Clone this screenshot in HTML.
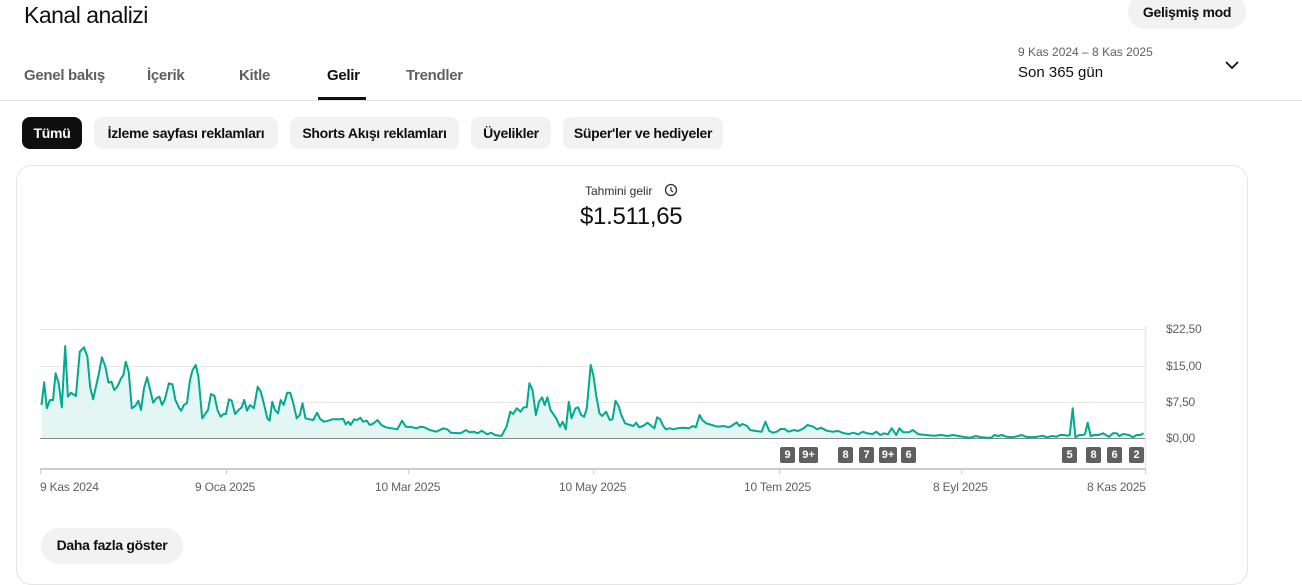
<!DOCTYPE html>
<html><head><meta charset="utf-8"><style>
*{box-sizing:border-box;margin:0;padding:0}
body{width:1302px;height:556px;overflow:hidden;background:#fff;font-family:"Liberation Sans",sans-serif;color:#0f0f0f;position:relative}
.a{position:absolute;white-space:nowrap}
.tab{position:absolute;top:67px;font-size:15px;font-weight:bold;color:#606060;letter-spacing:-0.3px}
.chip{position:absolute;top:117px;height:32px;border-radius:8px;background:#f2f2f2;font-size:14px;font-weight:bold;line-height:32px;text-align:center;letter-spacing:-0.3px}
.b{position:absolute;top:447px;height:16px;background:#606060;color:#fff;font-size:11px;font-weight:bold;line-height:16px;text-align:center;border-radius:2px}
.tl{position:absolute;top:480px;font-size:12px;color:#606060;letter-spacing:-0.2px}
.yl{position:absolute;left:1166px;font-size:12px;color:#606060;letter-spacing:-0.2px}
</style></head><body>
<div class="a" style="left:24px;top:2px;font-size:23px;letter-spacing:-0.5px">Kanal analizi</div>
<div class="a" style="left:1128px;top:-6px;width:118px;height:35px;border-radius:18px;background:#f2f2f2;font-size:14px;font-weight:bold;text-align:center;line-height:36px;letter-spacing:-0.3px">Gelişmiş mod</div>
<div class="tab" style="left:24px">Genel bakış</div>
<div class="tab" style="left:147px">İçerik</div>
<div class="tab" style="left:239px">Kitle</div>
<div class="tab" style="left:327px;color:#0f0f0f">Gelir</div>
<div class="tab" style="left:406px">Trendler</div>
<div class="a" style="left:318px;top:97px;width:48px;height:3px;background:#0f0f0f"></div>
<div class="a" style="left:0;top:100px;width:1302px;height:1px;background:#e5e5e5"></div>
<div class="a" style="left:1018px;top:45px;font-size:12px;color:#606060">9 Kas 2024 – 8 Kas 2025</div>
<div class="a" style="left:1018px;top:64px;font-size:15px">Son 365 gün</div>
<svg class="a" style="left:1224px;top:58px" width="16" height="14"><path d="M2 4 L8 10 L14 4" stroke="#0f0f0f" stroke-width="1.8" fill="none"/></svg>
<div class="chip" style="left:22px;width:60px;background:#0f0f0f;color:#fff">Tümü</div>
<div class="chip" style="left:94px;width:184px">İzleme sayfası reklamları</div>
<div class="chip" style="left:290px;width:169px">Shorts Akışı reklamları</div>
<div class="chip" style="left:471px;width:80px">Üyelikler</div>
<div class="chip" style="left:563px;width:160px">Süper'ler ve hediyeler</div>
<div class="a" style="left:16px;top:165px;width:1232px;height:420px;border:1px solid #e5e5e5;border-radius:16px"></div>
<div class="a" style="left:585px;top:184px;font-size:12px;color:#303030">Tahmini gelir</div>
<svg class="a" style="left:664px;top:183px" width="14" height="14"><circle cx="7" cy="7" r="5.5" stroke="#303030" stroke-width="1.3" fill="none"/><path d="M7 4 V7.5 L9 9" stroke="#303030" stroke-width="1.2" fill="none"/></svg>
<div class="a" style="left:580px;top:203px;font-size:24px;letter-spacing:-0.3px">$1.511,65</div>
<svg class="a" style="left:0;top:0" width="1302" height="556" id="s">
<line x1="40" y1="329.5" x2="1145" y2="329.5" stroke="#e8e8e8"/>
<line x1="40" y1="366.5" x2="1145" y2="366.5" stroke="#e8e8e8"/>
<line x1="40" y1="402.5" x2="1145" y2="402.5" stroke="#e8e8e8"/>
<line x1="1145.5" y1="326" x2="1145.5" y2="470" stroke="#eee" stroke-width="2"/>
<path id="ar" fill="#e3f6f3"/>
<line x1="40" y1="438.5" x2="1145" y2="438.5" stroke="#888"/>
<path id="ln" fill="none" stroke="#00a98f" stroke-width="2" stroke-linejoin="round"/>
<line x1="40" y1="469" x2="1146" y2="469" stroke="#ccc" stroke-width="2"/>
<g stroke="#ccc"><line x1="40.5" y1="469" x2="40.5" y2="474"/><line x1="226.5" y1="469" x2="226.5" y2="474"/><line x1="408.5" y1="469" x2="408.5" y2="474"/><line x1="593.5" y1="469" x2="593.5" y2="474"/><line x1="779.5" y1="469" x2="779.5" y2="474"/><line x1="961.5" y1="469" x2="961.5" y2="474"/><line x1="1145.5" y1="469" x2="1145.5" y2="474"/></g>
</svg>
<div class="yl" style="top:322px">$22,50</div>
<div class="yl" style="top:359px">$15,00</div>
<div class="yl" style="top:395px">$7,50</div>
<div class="yl" style="top:431px">$0,00</div>
<div class="b" style="left:780px;width:15px">9</div>
<div class="b" style="left:799px;width:19px">9+</div>
<div class="b" style="left:838px;width:15px">8</div>
<div class="b" style="left:859px;width:15px">7</div>
<div class="b" style="left:879px;width:18px">9+</div>
<div class="b" style="left:901px;width:15px">6</div>
<div class="b" style="left:1062px;width:15px">5</div>
<div class="b" style="left:1086px;width:15px">8</div>
<div class="b" style="left:1107px;width:15px">6</div>
<div class="b" style="left:1129px;width:15px">2</div>
<div class="tl" style="left:40px">9 Kas 2024</div>
<div class="tl" style="left:195px">9 Oca 2025</div>
<div class="tl" style="left:375px">10 Mar 2025</div>
<div class="tl" style="left:559px">10 May 2025</div>
<div class="tl" style="left:744px">10 Tem 2025</div>
<div class="tl" style="left:933px">8 Eyl 2025</div>
<div class="tl" style="left:1087px">8 Kas 2025</div>
<div class="a" style="left:41px;top:528px;width:142px;height:36px;border-radius:18px;background:#f2f2f2;font-size:14px;font-weight:bold;line-height:34px;text-align:center;letter-spacing:-0.3px">Daha fazla göster</div>
<script>
var z1=[30,255,37,187,44,265,52,240,60,240,67,160,75,190,83,262,92,78,99,230,107,218,120,228,130,95,141,82,150,110,157,200,165,238,180,160,188,112,197,140,205,188,213,185,220,210,228,200,238,175,244,165,250,125,258,155,266,265,275,258,283,242,290,270,298,205,306,172,314,210,322,248,330,235,338,230,345,255,352,240,363,190,372,193,380,240,390,265,395,272,402,255,410,250,418,180,425,150,433,135,440,170,450,295,465,270,473,222,482,228,490,270,498,290,506,282,512,282,520,238,527,242,536,282,545,270,553,262,560,240,567,272,575,255,585,265,595,200,603,215,612,255,620,295,626,302,633,245,640,270,648,280,655,240,663,255,672,218,680,218,688,250,697,295,705,285,712,250,720,295,730,298,740,300,750,278,758,297,768,305,780,302,790,298,810,298,818,296,825,313,832,305,838,315,847,298,855,300,863,293,870,305,880,302,888,315,898,310,908,300,918,315,930,322,945,325,960,328,972,302,982,320,1000,322,1010,325,1020,320,1030,322,1045,330,1062,335,1080,325,1090,328,1100,338,1125,340,1140,330,1148,337,1160,335,1170,340,1180,332,1195,343,1205,338,1215,345,1232,348,1245,320,1255,275,1262,282,1272,265,1282,275,1290,262,1298,262,1305,190,1313,210,1322,285,1330,245,1338,232,1345,255,1352,232,1360,270,1375,295,1385,320,1392,305,1400,328,1408,245,1415,295,1425,265,1432,262,1440,285,1448,290,1455,265,1465,135,1472,165,1480,230,1488,280,1495,288,1505,275,1515,300,1522,298,1530,242,1538,258,1545,285,1555,310,1568,315];
var z2=[10,305,25,310,35,318,42,308,50,322,60,318,72,308,82,318,90,325,97,292,105,298,113,318,120,328,130,325,140,328,150,325,165,323,180,325,190,318,198,322,208,285,215,300,225,310,240,315,255,320,270,318,285,322,295,315,305,307,312,318,320,312,332,318,340,330,355,333,370,335,380,305,390,333,400,338,410,335,420,327,430,327,440,335,455,330,465,333,480,325,490,315,505,320,515,328,525,323,540,332,555,335,570,333,585,340,598,342,610,338,622,343,635,335,645,340,660,342,670,335,680,345,690,340,700,343,710,325,722,345,730,325,740,337,755,337,765,330,780,343,800,345,820,347,840,345,855,348,870,345,885,348,905,352,915,353,930,348,945,352,960,353,970,353,978,345,988,348,998,345,1010,350,1025,352,1040,348,1050,345,1060,350,1075,352,1090,350,1105,347,1115,352,1130,348,1140,350,1150,345,1160,345,1170,347,1175,345,1183,265,1190,352,1200,345,1210,345,1215,342,1222,308,1230,348,1240,345,1250,345,1262,340,1270,345,1278,350,1288,340,1298,340,1305,348,1315,342,1330,345,1340,352,1350,345,1360,345,1368,340];
var p=[],k=2.613;
for(var i=0;i<z1.length;i+=2)p.push([(30+z1[i]/k).toFixed(1),(320+z1[i+1]/3).toFixed(1)]);
for(var i=0;i<z2.length;i+=2){var x=620+z2[i]/k;if(x>p[p.length-1][0])p.push([x.toFixed(1),(320+z2[i+1]/3).toFixed(1)]);}
var d="M"+p.map(function(a){return a[0]+" "+a[1]}).join(" L");
document.getElementById("ln").setAttribute("d",d);
document.getElementById("ar").setAttribute("d",d+" L"+p[p.length-1][0]+" 438 L"+p[0][0]+" 438 Z");
</script>
</body></html>
